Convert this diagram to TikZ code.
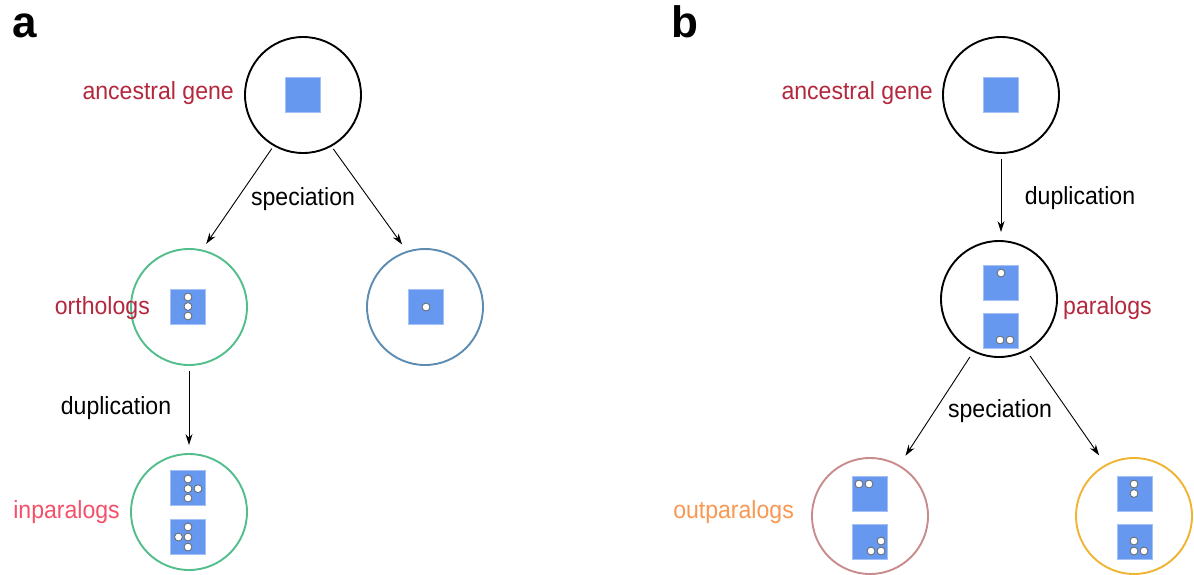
\documentclass[tikz,border=0pt]{standalone}
\usepackage{fontspec}
\setmainfont{Liberation Sans}
\newfontfamily\lblfont{Liberation Sans}[FakeStretch=0.93]
\usetikzlibrary{arrows.meta}
\definecolor{cgreen}{RGB}{82,190,140}
\definecolor{cblue}{RGB}{92,140,178}
\definecolor{crose}{RGB}{200,140,140}
\definecolor{cyel}{RGB}{240,180,50}
\definecolor{csq}{RGB}{102,152,240}
\definecolor{tdred}{RGB}{180,40,62}
\definecolor{tpink}{RGB}{245,80,104}
\definecolor{torange}{RGB}{248,152,82}
\newcommand\mydot[2]{\draw[dotst] (#1,#2) circle (3.9);}
\begin{document}
\begin{tikzpicture}[x=1pt,y=-1pt,
  circ/.style={circle,minimum size=116pt,inner sep=0pt,line width=1.9pt,draw=#1},
  sq/.style={rectangle,minimum size=35pt,inner sep=0pt,fill=csq,draw=csq!60!white,line width=0.5pt},
  dotst/.style={fill=white,draw=black!60,line width=0.8pt},
  arr/.style={-{Stealth[length=11pt,width=7pt]},line width=0.9pt,black},
  lbl/.style={font=\lblfont\fontsize{24.8}{29}\selectfont,inner sep=0pt},
  panel/.style={font=\fontsize{44}{50}\selectfont\bfseries,inner sep=0pt}]
\useasboundingbox (0,0) rectangle (1194,574);
\fill[white] (0,0) rectangle (1194,574);
% panel letters
\node[panel,anchor=base west] (pa) at (12,37) {a};
\node[panel,anchor=base west] (pb) at (671,37) {b};
% ---------------- panel a
\node[circ=black] (ancA) at (303,95) {};
\node[circ=cgreen] (orth) at (189,307) {};
\node[circ=cblue] (blue) at (425,307) {};
\node[circ=cgreen] (inpar) at (189,512) {};
\node[sq] (sqA) at (303,95) {};
\node[sq] (sqO) at (188,307) {};
\node[sq] (sqB) at (425.5,307) {};
\node[sq] (sqI1) at (188,488) {};
\node[sq] (sqI2) at (188,536.5) {};
\mydot{188}{297}\mydot{188}{306.5}\mydot{188}{316}
\mydot{426}{307}
\mydot{188}{479}\mydot{188}{488.7}\mydot{198}{488.7}\mydot{188}{498}
\mydot{188}{527}\mydot{178.5}{537}\mydot{188}{537}\mydot{188}{547}
\draw[arr,shorten <=3pt,shorten >=7pt] (ancA.240) -- (orth.77);
\draw[arr,shorten <=3pt,shorten >=8pt] (ancA.299) -- (blue.108);
\draw[arr,shorten <=5pt,shorten >=8pt] (orth.south) -- (inpar.north);
\node[lbl,text=tdred,anchor=base east] (tAnc) at (234,99) {ancestral gene};
\node[lbl,anchor=base] (tSpA) at (303,205) {speciation};
\node[lbl,text=tdred,anchor=base east] (tOrth) at (150,314) {orthologs};
\node[lbl,anchor=base] (tDupA) at (116,414) {duplication};
\node[lbl,text=tpink,anchor=base east] (tInp) at (120,518) {inparalogs};
% ---------------- panel b
\node[circ=black] (ancB) at (1001,95) {};
\node[circ=black] (par) at (999,299) {};
\node[circ=crose] (outp) at (870,516) {};
\node[circ=cyel] (yel) at (1134,516) {};
\node[sq] (sqAB) at (1001,95) {};
\node[sq] (sqP1) at (1000.5,282.5) {};
\node[sq] (sqP2) at (1000.5,330.5) {};
\node[sq] (sqOu1) at (869.5,493.5) {};
\node[sq] (sqOu2) at (869.5,541.5) {};
\node[sq] (sqY1) at (1134.5,493.5) {};
\node[sq] (sqY2) at (1134.5,541.5) {};
\mydot{1001}{273}
\mydot{1000}{340}\mydot{1010}{340}
\mydot{859}{484}\mydot{869}{484}
\mydot{881}{541}\mydot{871}{551}\mydot{881}{551}
\mydot{1134}{484}\mydot{1134}{493.5}
\mydot{1134}{541}\mydot{1134}{551}\mydot{1144}{551}
\draw[arr,shorten <=5pt,shorten >=8pt] (ancB.south) -- (ancB.south |- par.north);
\draw[arr,shorten <=6pt,shorten >=11pt] (par.244) -- (outp.60);
\draw[arr,shorten <=6pt,shorten >=11pt] (par.298) -- (yel.119);
\node[lbl,text=tdred,anchor=base east] (tAncB) at (933,99) {ancestral gene};
\node[lbl,anchor=base] (tDupB) at (1080,204) {duplication};
\node[lbl,text=tdred,anchor=base west] (tPar) at (1063,314) {paralogs};
\node[lbl,anchor=base] (tSpB) at (1000,417) {speciation};
\node[lbl,text=torange,anchor=base east] (tOut) at (794,518) {outparalogs};
\end{tikzpicture}
\end{document}
